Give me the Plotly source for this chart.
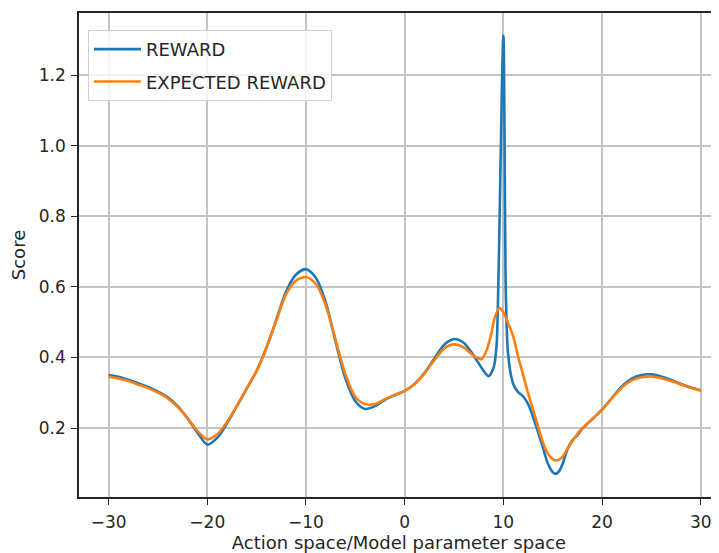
import plotly.graph_objects as go

# ---- data ----
x_reward = [-30, -29, -28, -27, -26, -25, -24, -23, -22, -21,
            -20, -19, -18, -17, -16, -15, -14, -13, -12, -11,
            -10, -9, -8, -7, -6, -5, -4, -3, -2, -1,
            0, 1, 2, 3, 4, 5, 6, 7, 8,
            8.5, 9, 9.3, 9.5, 10, 10.25, 10.45, 10.8, 11.1, 11.5, 12, 12.5,
            13, 13.5, 14, 14.5, 15, 15.3, 15.7, 16, 16.5, 17, 17.5, 18,
            19, 20, 21, 22, 23, 24, 25, 26, 27, 28, 29, 30]
reward = [0.350, 0.345, 0.337, 0.327, 0.316, 0.303, 0.287, 0.262, 0.227, 0.187,
          0.153, 0.172, 0.213, 0.262, 0.312, 0.362, 0.428, 0.508, 0.588, 0.635,
          0.650, 0.626, 0.556, 0.445, 0.340, 0.276, 0.254, 0.262, 0.280, 0.293,
          0.305, 0.325, 0.356, 0.396, 0.436, 0.452, 0.441, 0.405, 0.362,
          0.347, 0.370, 0.430, 0.620, 1.312, 0.580, 0.420, 0.345, 0.318, 0.302, 0.290, 0.268,
          0.232, 0.190, 0.145, 0.100, 0.075, 0.070, 0.080, 0.098, 0.140, 0.165, 0.180, 0.198,
          0.225, 0.252, 0.285, 0.318, 0.340, 0.350, 0.352, 0.346, 0.336, 0.325, 0.315, 0.307]

x_expected = [-30, -29, -28, -27, -26, -25, -24, -23, -22, -21,
              -20, -19, -18, -17, -16, -15, -14, -13, -12, -11,
              -10, -9, -8, -7, -6, -5, -4, -3, -2, -1,
              0, 1, 2, 3, 4, 5, 6, 7,
              7.5, 7.8, 8.3, 8.8, 9.1, 9.6, 9.9, 10.45, 11.0, 11.5, 12.2,
              12.7, 13.3, 14, 14.5, 15, 15.4, 16, 16.5, 17, 17.5, 18,
              19, 20, 21, 22, 23, 24, 25, 26, 27, 28, 29, 30]
expected = [0.345, 0.340, 0.333, 0.323, 0.313, 0.300, 0.284, 0.260, 0.228, 0.192,
            0.168, 0.182, 0.217, 0.263, 0.312, 0.362, 0.428, 0.505, 0.580, 0.618,
            0.628, 0.608, 0.548, 0.450, 0.352, 0.288, 0.268, 0.268, 0.282, 0.294,
            0.305, 0.324, 0.354, 0.392, 0.425, 0.437, 0.428, 0.404,
            0.397, 0.395, 0.420, 0.470, 0.510, 0.540, 0.532, 0.500, 0.459, 0.402, 0.330,
            0.280, 0.225, 0.160, 0.128, 0.112, 0.108, 0.118, 0.142, 0.163, 0.183, 0.200,
            0.225, 0.252, 0.284, 0.315, 0.335, 0.344, 0.346, 0.341, 0.333, 0.323, 0.314, 0.306]

x_ticks = [-30, -20, -10, 0, 10, 20, 30]
y_ticks = [0.2, 0.4, 0.6, 0.8, 1.0, 1.2]
y_tick_labels = ["0.2", "0.4", "0.6", "0.8", "1.0", "1.2"]

FONT = "DejaVu Sans"

fig = go.Figure()
fig.add_trace(go.Scatter(x=x_reward, y=reward, mode="lines", name="REWARD", legendgroup="a",
                         line=dict(color="#1f77b4", width=2.6, shape="spline", smoothing=0.8)))
fig.add_trace(go.Scatter(x=x_expected, y=expected, mode="lines", name="EXPECTED REWARD", legendgroup="b",
                         line=dict(color="#ff7f0e", width=2.6, shape="spline", smoothing=0.8)))

# the page body adds an 8px offset, so the figure is sized/margined to compensate
fig.update_layout(
    width=711, height=545,
    margin=dict(l=71, r=0, t=5, b=56, pad=0),
    paper_bgcolor="white", plot_bgcolor="white",
    font=dict(family=FONT, size=17, color="#262626"),
    showlegend=True,
    legend=dict(x=0.014, y=0.965, xanchor="left", yanchor="top",
                traceorder="grouped", tracegroupgap=6, itemwidth=47,
                bgcolor="rgba(255,255,255,0.8)", bordercolor="#d0d0d0", borderwidth=1,
                font=dict(family=FONT, size=18, color="#262626")),
    xaxis=dict(range=[-33, 31.85], tickvals=x_ticks, showgrid=True, gridcolor="#c4c4c4", gridwidth=1.6,
               zeroline=False, showline=True, linecolor="#262626", linewidth=1.6, mirror=True,
               ticks="outside", ticklen=6, tickcolor="#262626", tickwidth=1.4, automargin=False,
               ticklabelstandoff=3,
               title=dict(text="Action space/Model parameter space", font=dict(size=18), standoff=4)),
    yaxis=dict(range=[0.0045, 1.376], tickvals=y_ticks, ticktext=y_tick_labels, showgrid=True,
               gridcolor="#c4c4c4", gridwidth=1.6, zeroline=False, showline=True,
               linecolor="#262626", linewidth=1.6, mirror=False, automargin=False,
               ticks="outside", ticklen=6, tickcolor="#262626", tickwidth=1.4,
               ticklabelstandoff=2,
               title=dict(text="Score", font=dict(size=18), standoff=8)),
)

fig.write_html("out.html")
